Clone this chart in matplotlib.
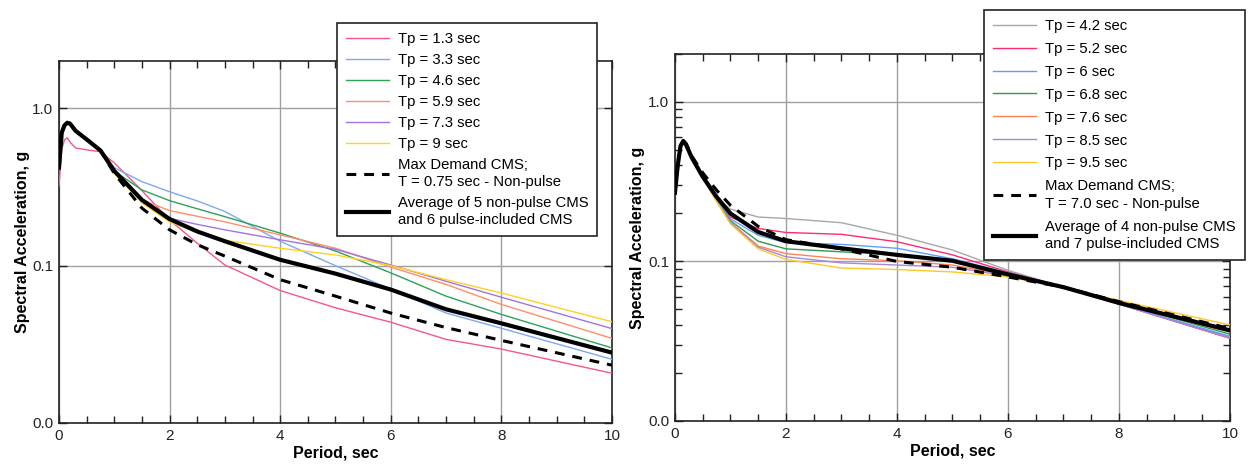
import matplotlib
matplotlib.use("Agg")
import matplotlib.pyplot as plt
from matplotlib.ticker import FixedLocator, FuncFormatter, MultipleLocator, NullFormatter

plt.rcParams['font.family'] = ['Liberation Sans', 'DejaVu Sans']

# ---- Left panel: spectra for T = 0.75 sec ----
period_a = [0, 0.05, 0.1, 0.15, 0.2, 0.3, 0.5, 0.75, 1.0, 1.5, 2, 2.5, 3, 4, 5, 6, 7, 8, 10]
tp13 = [0.32, 0.55, 0.63, 0.65, 0.61, 0.56, 0.545, 0.53, 0.45, 0.30, 0.195, 0.139, 0.101, 0.0695, 0.054, 0.0437, 0.034, 0.0295, 0.0207]
tp33 = [0.42, 0.70, 0.78, 0.81, 0.80, 0.72, 0.635, 0.54, 0.42, 0.342, 0.295, 0.258, 0.221, 0.143, 0.100, 0.071, 0.050, 0.040, 0.0254]
tp46 = [0.42, 0.70, 0.78, 0.81, 0.80, 0.72, 0.635, 0.54, 0.40, 0.303, 0.259, 0.230, 0.205, 0.161, 0.124, 0.090, 0.064, 0.049, 0.030]
tp59 = [0.42, 0.70, 0.78, 0.81, 0.80, 0.72, 0.635, 0.54, 0.39, 0.262, 0.224, 0.206, 0.190, 0.157, 0.129, 0.098, 0.076, 0.0567, 0.0345]
tp73 = [0.42, 0.70, 0.78, 0.81, 0.80, 0.72, 0.635, 0.54, 0.39, 0.255, 0.200, 0.183, 0.169, 0.146, 0.127, 0.101, 0.0796, 0.063, 0.0398]
tp90 = [0.42, 0.70, 0.78, 0.81, 0.80, 0.72, 0.635, 0.54, 0.385, 0.250, 0.190, 0.162, 0.145, 0.129, 0.117, 0.100, 0.0815, 0.067, 0.044]
maxdem_a = [0.42, 0.70, 0.78, 0.81, 0.80, 0.72, 0.635, 0.54, 0.386, 0.232, 0.169, 0.136, 0.115, 0.0815, 0.064, 0.050, 0.0404, 0.0335, 0.0233]
avg_a = [0.42, 0.70, 0.78, 0.81, 0.80, 0.72, 0.635, 0.54, 0.40, 0.262, 0.198, 0.165, 0.143, 0.109, 0.089, 0.0705, 0.0528, 0.043, 0.028]

labels_a = ["Tp = 1.3 sec", "Tp = 3.3 sec", "Tp = 4.6 sec", "Tp = 5.9 sec", "Tp = 7.3 sec", "Tp = 9 sec"]
series_a = [tp13, tp33, tp46, tp59, tp73, tp90]
colors_a = ["#f4588c", "#7fa8f2", "#2ea05a", "#ff8e6a", "#a274e0", "#ffd222"]
maxdem_label_a = "Max Demand CMS;\nT = 0.75 sec - Non-pulse"
avg_label_a = "Average of 5 non-pulse CMS\nand 6 pulse-included CMS"

# ---- Right panel: spectra for T = 7.0 sec ----
period_b = [0, 0.05, 0.1, 0.15, 0.2, 0.3, 0.5, 0.75, 1.0, 1.5, 2, 3, 4, 5, 6, 7, 8, 10]
tp42 = [0.27, 0.40, 0.53, 0.57, 0.54, 0.45, 0.34, 0.25, 0.213, 0.190, 0.186, 0.175, 0.146, 0.118, 0.088, 0.069, 0.054, 0.0335]
tp52 = [0.27, 0.40, 0.53, 0.57, 0.54, 0.45, 0.335, 0.245, 0.190, 0.161, 0.152, 0.148, 0.133, 0.110, 0.086, 0.069, 0.054, 0.033]
tp60 = [0.27, 0.40, 0.53, 0.57, 0.54, 0.45, 0.335, 0.245, 0.185, 0.146, 0.131, 0.128, 0.121, 0.104, 0.085, 0.069, 0.054, 0.034]
tp68 = [0.27, 0.40, 0.53, 0.57, 0.54, 0.45, 0.335, 0.24, 0.180, 0.134, 0.120, 0.115, 0.110, 0.100, 0.083, 0.069, 0.055, 0.035]
tp76 = [0.27, 0.40, 0.53, 0.57, 0.54, 0.45, 0.335, 0.24, 0.176, 0.125, 0.112, 0.104, 0.101, 0.095, 0.082, 0.069, 0.055, 0.036]
tp85 = [0.27, 0.40, 0.53, 0.57, 0.54, 0.45, 0.335, 0.24, 0.175, 0.123, 0.107, 0.098, 0.095, 0.092, 0.081, 0.069, 0.054, 0.033]
tp95 = [0.27, 0.40, 0.53, 0.57, 0.54, 0.45, 0.335, 0.238, 0.172, 0.120, 0.103, 0.091, 0.089, 0.086, 0.080, 0.069, 0.057, 0.040]
maxdem_b = [0.27, 0.40, 0.53, 0.57, 0.55, 0.46, 0.36, 0.28, 0.225, 0.166, 0.137, 0.120, 0.100, 0.092, 0.080, 0.069, 0.056, 0.038]
avg_b = [0.27, 0.40, 0.53, 0.57, 0.54, 0.45, 0.34, 0.254, 0.200, 0.153, 0.134, 0.121, 0.110, 0.101, 0.083, 0.069, 0.055, 0.037]

labels_b = ["Tp = 4.2 sec", "Tp = 5.2 sec", "Tp = 6 sec", "Tp = 6.8 sec", "Tp = 7.6 sec", "Tp = 8.5 sec", "Tp = 9.5 sec"]
series_b = [tp42, tp52, tp60, tp68, tp76, tp85, tp95]
colors_b = ["#a8a8a8", "#ff2a72", "#5f9eff", "#2f9a50", "#ff8356", "#a887d8", "#ffc828"]
maxdem_label_b = "Max Demand CMS;\nT = 7.0 sec - Non-pulse"
avg_label_b = "Average of 4 non-pulse CMS\nand 7 pulse-included CMS"

fig = plt.figure(figsize=(12.52, 4.66), dpi=100)
ax_a = fig.add_axes([0.0471, 0.0923, 0.4417, 0.7768])
ax_b = fig.add_axes([0.5391, 0.0966, 0.4433, 0.7876])


def draw_panel(ax, period, series, colors, labels, maxdem, maxdem_label, avg, avg_label,
               minor_y, legend_anchor, spacing):
    handles = []
    for vals, col, lab in zip(series, colors, labels):
        h, = ax.plot(period, vals, color=col, lw=1.0, label=lab, zorder=3)
        handles.append(h)
    h, = ax.plot(period, maxdem, color="black", lw=2.2, ls=(0, (3.2, 2.6)),
                 label=maxdem_label, zorder=4)
    handles.append(h)
    h, = ax.plot(period, avg, color="black", lw=3.0, label=avg_label, zorder=5)
    handles.append(h)

    ax.set_yscale("log")
    ax.set_xlim(0, 10)
    ax.set_ylim(0.01, 2.0)
    ax.set_xticks([0, 2, 4, 6, 8, 10])
    ax.xaxis.set_minor_locator(MultipleLocator(0.5))
    ax.yaxis.set_major_locator(FixedLocator([0.01, 0.1, 1.0]))
    ax.yaxis.set_major_formatter(FuncFormatter(lambda v, p: f"{v:.1f}"))
    if minor_y:
        ax.yaxis.set_minor_locator(FixedLocator([m * d for d in (0.01, 0.1, 1.0) for m in range(2, 10)]))
    else:
        ax.yaxis.set_minor_locator(FixedLocator([]))
    ax.yaxis.set_minor_formatter(NullFormatter())
    ax.tick_params(which="both", direction="in", top=True, right=True,
                   labelsize=11, colors="#222222", pad=4)
    ax.tick_params(which="major", length=6, width=1.0)
    ax.tick_params(which="minor", length=5, width=1.0)
    ax.grid(True, which="major", color="#a0a0a0", lw=1.0, zorder=1)
    for s in ax.spines.values():
        s.set_linewidth(1.2)
        s.set_color("#222222")
    ax.set_xlabel("Period, sec", fontsize=11.5, fontweight="bold", labelpad=2)
    ax.set_ylabel("Spectral Acceleration, g", fontsize=11.5, fontweight="bold", labelpad=2)

    leg = ax.legend(handles=handles, loc="upper left", bbox_to_anchor=legend_anchor,
                    bbox_transform=fig.transFigure, fontsize=10.7, frameon=True,
                    fancybox=False, framealpha=1.0, edgecolor="#222222",
                    handlelength=2.9, handletextpad=0.6, labelspacing=spacing,
                    borderpad=0.6, borderaxespad=0.0)
    for t in leg.get_texts():
        t.set_linespacing(1.3)
    leg.get_frame().set_linewidth(1.2)
    leg.set_zorder(10)


draw_panel(ax_a, period_a, series_a, colors_a, labels_a, maxdem_a, maxdem_label_a,
           avg_a, avg_label_a, False, (0.269, 0.9506), 0.47)
draw_panel(ax_b, period_b, series_b, colors_b, labels_b, maxdem_b, maxdem_label_b,
           avg_b, avg_label_b, True, (0.786, 0.9785), 0.6)

fig.savefig("out.png", dpi=100)
